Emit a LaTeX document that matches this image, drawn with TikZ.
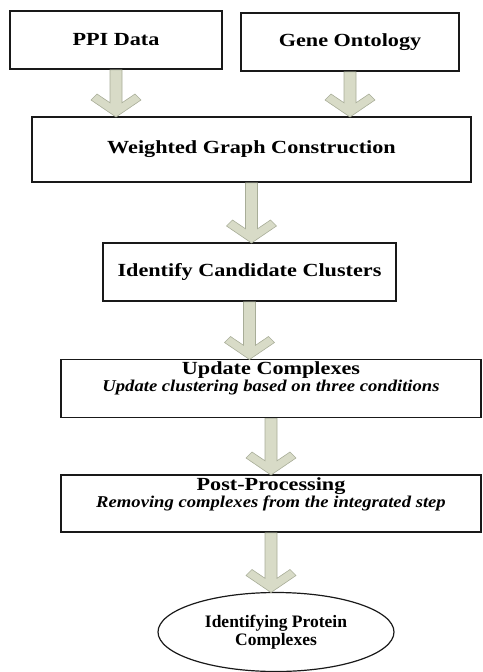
\documentclass[tikz,border=0pt]{standalone}
\usepackage{fontspec}
\setmainfont{Liberation Serif}
\newfontfamily\largafont[FakeStretch=1.2]{Liberation Serif}
\newfontfamily\mediafont[FakeStretch=1.13]{Liberation Serif}
\usetikzlibrary{shapes.geometric, calc}
\definecolor{frecciaverde}{RGB}{216,219,199}
\definecolor{frecciabordo}{RGB}{168,173,152}

% Freccia a blocco verticale: dalla base (#1) alla punta (#2)
\newcommand{\frecciablocco}[2]{%
  \path[fill=frecciaverde, draw=frecciabordo, line width=0.6pt]
    let \p1=(#1), \p2=(#2) in
    (\x2,\y2) -- (\x2-25pt,\y2+17pt) -- (\x2-19pt,\y2+23pt) -- (\x2-6pt,\y2+14.2pt)
    -- (\x2-6pt,\y1-0.8pt) -- (\x2+6pt,\y1-0.8pt) -- (\x2+6pt,\y2+14.2pt)
    -- (\x2+19pt,\y2+23pt) -- (\x2+25pt,\y2+17pt) -- cycle;}

\begin{document}
\begin{tikzpicture}[x=1pt, y=-1pt,
    blocco/.style={draw=black!90, line width=1.2pt, rectangle, inner sep=0pt, outer sep=0pt,
      font=\largafont\fontsize{18.5}{20}\selectfont\bfseries},
    titolo/.style={inner sep=0pt, anchor=base, font=\largafont\fontsize{18.5}{20}\selectfont\bfseries},
    sottotitolo/.style={inner sep=0pt, anchor=base, font=\mediafont\fontsize{16.5}{18}\selectfont\bfseries\itshape},
    finale/.style={draw=black!90, line width=1.2pt, ellipse, inner sep=0pt, outer sep=0pt,
      align=center, font=\fontsize{17.5}{18}\selectfont\bfseries}]
    \useasboundingbox (0,0) rectangle (482,672);

    % Blocchi di ingresso
    \node[blocco, minimum width=212, minimum height=58] (ppi) at (116,40) {PPI Data};
    \node[blocco, minimum width=218, minimum height=58] (gene) at (350,42) {Gene Ontology};

    % Passi della procedura
    \node[blocco, minimum width=439, minimum height=65] (wgc) at (251.5,149.5) {Weighted Graph Construction};
    \node[blocco, minimum width=293, minimum height=58] (icc) at (249.5,272) {Identify Candidate Clusters};
    \node[blocco, minimum width=420, minimum height=58] (upd) at (271,388.5) {};
    \node[titolo] (updtitolo) at (271,374) {Update Complexes};
    \node[sottotitolo] (updtesto) at (271,391) {Update clustering based on three conditions};
    \node[blocco, minimum width=420, minimum height=57] (post) at (271,503.5) {};
    \node[titolo] (posttitolo) at (271,490) {Post-Processing};
    \node[sottotitolo] (posttesto) at (271,507) {Removing complexes from the integrated step};

    % Risultato
    \node[finale, minimum width=236, minimum height=79] (fine) at (276,632) {Identifying Protein\\Complexes};

    % Frecce
    \frecciablocco{ppi.south}{ppi.south |- wgc.north}
    \frecciablocco{gene.south}{gene.south |- wgc.north}
    \frecciablocco{wgc.south}{wgc.south |- icc.north}
    \frecciablocco{icc.south}{icc.south |- upd.north}
    \frecciablocco{upd.south}{upd.south |- post.north}
    \frecciablocco{post.south}{post.south |- fine.north}
\end{tikzpicture}
\end{document}
